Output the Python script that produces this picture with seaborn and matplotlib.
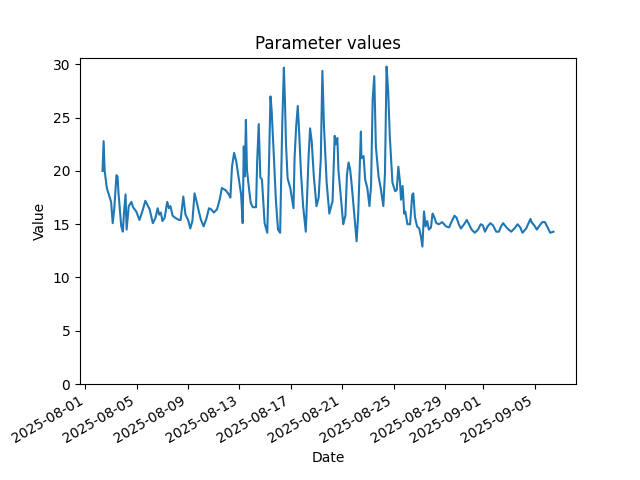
#!/usr/bin/env python3
import pandas as pd
import seaborn as sns
import matplotlib
matplotlib.use("Agg")
import matplotlib.pyplot as plt

# hours since 2025-08-02 00:00
hours = [
    8, 10, 12, 16, 21, 24, 27, 30, 34, 36, 38, 43, 46, 48, 51, 53, 57, 62, 65, 71,
    77, 83, 88, 96, 102, 107, 111, 114, 117, 120, 124, 129, 132, 135, 139, 144, 151, 154, 159, 163,
    168, 172, 176, 180, 184, 188, 192, 197, 202, 207, 211, 216, 222, 227, 231, 238, 244, 247, 250, 254,
    258, 262, 267, 270, 272, 274, 276, 278, 281, 285, 289, 295, 297, 300, 303, 306, 311, 316, 319, 322,
    324, 328, 332, 336, 340, 344, 347, 349, 351, 354, 359, 365, 367, 370, 373, 375, 379, 383, 388, 393,
    396, 399, 403, 408, 412, 416, 419, 422, 427, 432, 437, 438, 442, 444, 447, 449, 454, 458, 462, 465,
    468, 471, 474, 479, 483, 486, 491, 492, 496, 499, 503, 507, 510, 513, 516, 519, 524, 528, 533, 536,
    539, 542, 545, 550, 555, 558, 561, 564, 566, 569, 572, 574, 578, 583, 587, 589, 592, 596, 600, 603,
    606, 609, 612, 615, 618, 622, 625, 628, 632, 637, 643, 650, 656, 661, 666, 670, 674, 678, 684, 689,
    693, 698, 704, 710, 715, 719, 723, 728, 733, 738, 744, 749, 753, 757, 760, 765, 772, 778, 784, 789,
    793, 800, 808, 810, 815, 820, 824, 830, 835, 840, 845, 851,
]
values = [
    20.0, 22.8, 20.0, 18.4, 17.6, 17.1, 15.1, 16.5, 19.6, 19.5, 17.8, 14.8, 14.3, 16.0, 17.8, 14.5, 16.7, 17.1, 16.6, 16.2,
    15.4, 16.3, 17.2, 16.4, 15.1, 15.6, 16.5, 15.9, 16.1, 15.3, 15.6, 17.1, 16.5, 16.7, 15.8, 15.6, 15.4, 15.4, 17.6, 15.9,
    15.4, 14.6, 15.3, 17.9, 17.1, 16.2, 15.4, 14.8, 15.5, 16.5, 16.4, 16.1, 16.4, 17.3, 18.4, 18.2, 17.8, 17.5, 20.4, 21.7,
    20.9, 19.5, 17.8, 15.1, 22.3, 19.5, 24.8, 20.1, 18.7, 17.0, 16.6, 16.6, 20.8, 24.4, 19.4, 19.2, 15.1, 14.2, 20.3, 27.0,
    25.8, 21.7, 17.3, 14.5, 14.2, 24.5, 29.7, 26.6, 22.5, 19.3, 18.4, 16.5, 21.2, 24.2, 26.1, 24.2, 19.8, 16.7, 14.3, 21.1,
    24.0, 22.8, 19.5, 16.7, 17.5, 21.1, 29.4, 24.2, 18.9, 16.0, 17.0, 17.1, 23.3, 22.5, 23.1, 20.1, 17.3, 15.0, 15.8, 19.7,
    20.8, 20.1, 18.6, 15.7, 13.4, 16.0, 23.7, 21.2, 21.4, 19.2, 18.4, 16.7, 18.6, 26.7, 28.9, 22.3, 19.5, 18.4, 16.7, 19.8,
    29.8, 27.5, 23.3, 18.9, 18.1, 18.2, 20.4, 19.0, 17.3, 18.6, 16.0, 16.2, 15.0, 15.0, 17.8, 17.9, 15.7, 14.8, 14.6, 13.9,
    12.9, 16.2, 14.8, 15.3, 14.5, 14.7, 16.0, 15.7, 15.1, 15.0, 15.2, 14.8, 14.7, 15.3, 15.8, 15.6, 15.0, 14.6, 15.0, 15.4,
    15.0, 14.5, 14.2, 14.5, 15.0, 14.9, 14.3, 14.8, 15.1, 14.9, 14.3, 14.3, 14.8, 15.1, 14.9, 14.6, 14.3, 14.6, 15.0, 14.7,
    14.2, 14.6, 15.5, 15.2, 14.9, 14.5, 14.8, 15.2, 15.2, 14.7, 14.2, 14.3,
]


def main():
    df = pd.DataFrame({
        "Date": pd.Timestamp("2025-08-02") + pd.to_timedelta(hours, unit="h"),
        "Value": values,
    })
    fig, ax = plt.subplots(figsize=(6.4, 4.8), dpi=100)
    sns.lineplot(data=df, x="Date", y="Value", ax=ax)
    ax.set_ylim(bottom=0)
    ax.set_title("Parameter values")
    ax.set_xlabel("Date")
    ax.set_ylabel("Value")
    fig.autofmt_xdate()
    fig.savefig("out.png", dpi=100)


if __name__ == "__main__":
    main()
